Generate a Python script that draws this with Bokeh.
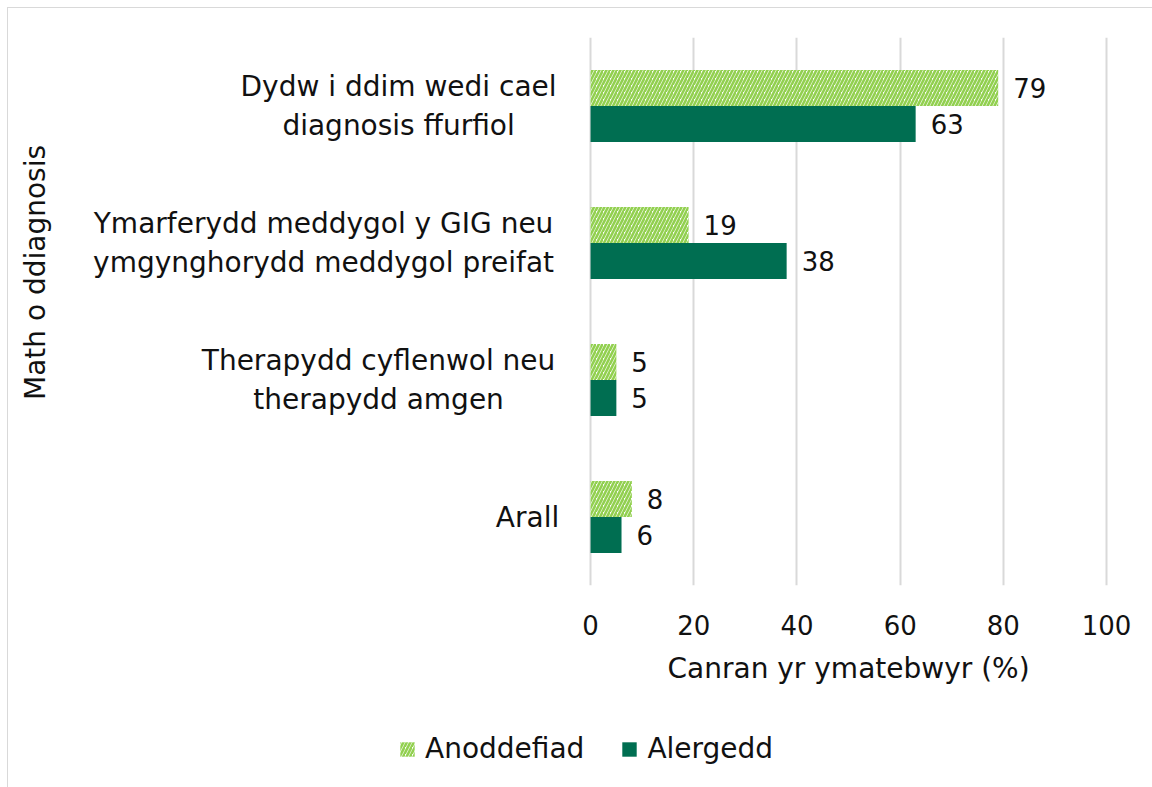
from bokeh.plotting import figure
from bokeh.layouts import column
from bokeh.models import FactorRange, Range1d, Legend, LegendItem, ColumnDataSource, FixedTicker
from bokeh.transform import dodge
from bokeh.core.properties import value
from bokeh.embed import file_html
from bokeh.resources import INLINE

# ---- data ----
categories = [
    "Dydw i ddim wedi cael\ndiagnosis ffurfiol",
    "Ymarferydd meddygol y GIG neu\nymgynghorydd meddygol preifat",
    "Therapydd cyflenwol neu\ntherapydd amgen",
    "Arall",
]
anoddefiad = [79, 19, 5, 8]
alergedd = [63, 38, 5, 6]
series_names = ["Anoddefiad", "Alergedd"]
x_ticks = [0, 20, 40, 60, 80, 100]
x_title = "Canran yr ymatebwyr (%)"
y_title = "Math o ddiagnosis"

FONT = "DejaVu Sans"
FS = "26px"      # numbers
FL = "28px"      # words
TXT = "#111111"
HATCH = "#92d050"
SOLID = "#006e51"

src = ColumnDataSource(dict(cat=categories, anod=anoddefiad, alerg=alergedd,
                            anod_t=[str(v) for v in anoddefiad],
                            alerg_t=[str(v) for v in alergedd],
                            lab_off=[-192, -267, -212, -63]))

xr = Range1d(-112.8, 108.9)
p = figure(width=1144, height=639, output_backend="svg", toolbar_location=None,
           y_range=FactorRange(factors=categories[::-1]), x_range=xr,
           min_border_left=0, min_border_right=0, min_border_top=29, min_border_bottom=62)
p.outline_line_color = None
p.background_fill_color = "white"
p.border_fill_color = "white"

hatch_style = dict(fill_color="white", line_color=None, hatch_pattern="/", hatch_color=HATCH,
                   hatch_scale=7, hatch_weight=2.6)
solid_style = dict(fill_color=SOLID, line_color=None)

p.hbar(y=dodge("cat", 0.131, range=p.y_range), right="anod", left=0, height=0.263, source=src,
       **hatch_style)
p.hbar(y=dodge("cat", -0.131, range=p.y_range), right="alerg", left=0, height=0.263, source=src,
       **solid_style)

p.text(x="anod", y=dodge("cat", 0.131, range=p.y_range), text="anod_t", source=src,
       x_offset=15, text_align="left", text_baseline="middle",
       text_font=value(FONT), text_font_size=FS, text_color=TXT)
p.text(x="alerg", y=dodge("cat", -0.131, range=p.y_range), text="alerg_t", source=src,
       x_offset=15, text_align="left", text_baseline="middle",
       text_font=value(FONT), text_font_size=FS, text_color=TXT)

# category labels (multi-line, centred lines)
p.text(x=0, y="cat", text="cat", x_offset="lab_off", source=src,
       text_align="center", text_baseline="middle", text_line_height=1.2,
       text_font=value(FONT), text_font_size=FL, text_color=TXT)

# y title
p.text(x=[-107.6], y=[2.285], text=[y_title], angle=1.5708,
       text_align="center", text_baseline="middle",
       text_font=value(FONT), text_font_size=FL, text_color=TXT)

p.yaxis.visible = False
p.ygrid.visible = False
p.xgrid.grid_line_color = "#d9d9d9"
p.xgrid.grid_line_width = 2
p.xaxis.ticker = FixedTicker(ticks=x_ticks)
p.xaxis.axis_line_color = None
p.xaxis.major_tick_line_color = None
p.xaxis.minor_tick_line_color = None
p.xaxis.major_tick_out = 0
p.xaxis.major_tick_in = 0
p.xaxis.major_label_standoff = 29
p.xaxis.major_label_text_font = FONT
p.xaxis.major_label_text_font_size = FS
p.xaxis.major_label_text_color = TXT

# lower strip: x-axis title and legend
q = figure(width=1144, height=140, output_backend="svg", toolbar_location=None,
           x_range=xr, y_range=Range1d(0, 140),
           min_border_left=0, min_border_right=0, min_border_top=0, min_border_bottom=0)
q.axis.visible = False
q.grid.visible = False
q.outline_line_color = None
q.border_fill_color = "white"
q.text(x=[(x_ticks[0] + x_ticks[-1]) / 2], y=[119], text=[x_title], text_align="center",
       text_baseline="middle", text_font=value(FONT), text_font_size=FL, text_color=TXT)
# legend proxies (zero-width, outside the strip's visible range)
l1 = q.hbar(y=[-50], right=[0], left=[0], height=1, **hatch_style)
l2 = q.hbar(y=[-50], right=[0], left=[0], height=1, **solid_style)
legend = Legend(items=[LegendItem(label=series_names[0], renderers=[l1]),
                       LegendItem(label=series_names[1], renderers=[l2])],
                orientation="horizontal", location=(390, 22),
                glyph_width=18, glyph_height=18, label_text_font=FONT,
                label_text_font_size=FL, label_text_color=TXT,
                border_line_color=None, background_fill_alpha=0,
                padding=0, margin=0, spacing=36, label_standoff=9)
q.add_layout(legend)

layout = column(p, q, spacing=0)
layout.styles = {"margin-left": "7px", "margin-top": "7px",
                 "border-left": "1px solid #d9d9d9", "border-top": "1px solid #d9d9d9"}

open("out.html", "w").write(file_html(layout, INLINE))
